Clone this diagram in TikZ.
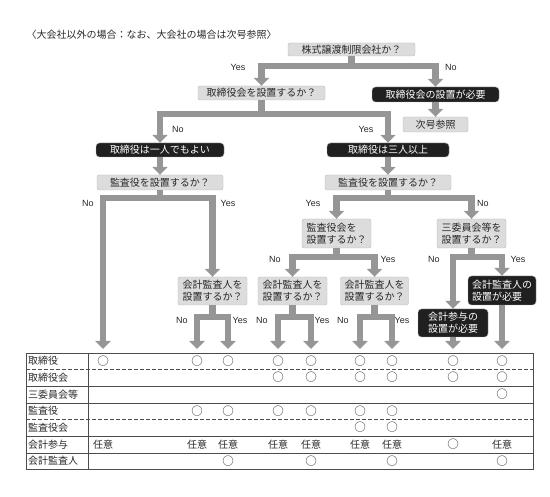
\documentclass[tikz,border=0pt]{standalone}
\usepackage{fontspec}
\newfontfamily\jp{Noto Sans CJK JP}
\newfontfamily\lat{Liberation Sans}
\usetikzlibrary{arrows.meta}
\definecolor{flowgray}{RGB}{150,150,150}
\definecolor{boxgray}{RGB}{220,220,220}
\definecolor{boxblack}{RGB}{32,32,32}
\definecolor{inkgray}{RGB}{40,40,40}
\tikzset{
  qbox/.style={draw=gray!55, fill=boxgray, rounded corners=2pt, inner sep=0pt, align=left},
  nbox/.style={draw=gray!70, fill=boxblack, text=white, rounded corners=3.5pt, inner sep=0pt, align=left},
  flow/.style={draw=flowgray, line width=6.5pt, -{Triangle[width=15pt,length=8pt]}},
  yn/.style={font=\lat\fontsize{9}{10}\selectfont},
  tline/.style={draw=black!70, line width=0.7pt},
  dline/.style={tline, dash pattern=on 3.5pt off 2.5pt},
  mark cell/.style={inner sep=0pt, font=\jp\fontsize{11.5}{12}\selectfont},
}

\begin{document}
\begin{tikzpicture}[x=1pt, y=-1pt, every node/.style={font=\jp\fontsize{10}{12}\selectfont, text=inkgray}]
  \useasboundingbox (0,0) rectangle (550,497);
  \node[anchor=west] (title) at (23,35) {〈大会社以外の場合：なお、大会社の場合は次号参照〉};

  % question and result boxes
  \node[qbox, minimum width=127pt, minimum height=13pt] (q1) at (351.5,49.5) {株式譲渡制限会社か？};
  \node[qbox, minimum width=127pt, minimum height=14pt] (q2) at (261.5,93) {取締役会を設置するか？};
  \node[nbox, minimum width=127pt, minimum height=15pt] (must1) at (435.5,94.5) {取締役会の設置が必要};
  \node[qbox, minimum width=65pt, minimum height=15pt] (ref) at (435.5,124.5) {次号参照};
  \node[nbox, minimum width=128pt, minimum height=14pt] (one) at (160,150) {取締役は一人でもよい};
  \node[nbox, minimum width=122pt, minimum height=14pt] (three) at (388,150) {取締役は三人以上};
  \node[qbox, minimum width=126pt, minimum height=15pt] (ka1) at (160,182.5) {監査役を設置するか？};
  \node[qbox, minimum width=126pt, minimum height=15pt] (ka2) at (388,182.5) {監査役を設置するか？};
  \node[qbox, minimum width=69pt, minimum height=29pt] (kk) at (336.5,233.5) {監査役会を\\設置するか？};
  \node[qbox, minimum width=69pt, minimum height=29pt] (sa) at (471.5,233.5) {三委員会等を\\設置するか？};
  \node[qbox, minimum width=69pt, minimum height=28pt] (aA) at (212.5,291) {会計監査人を\\設置するか？};
  \node[qbox, minimum width=69pt, minimum height=28pt] (aB) at (292.5,291) {会計監査人を\\設置するか？};
  \node[qbox, minimum width=68pt, minimum height=28pt] (aC) at (374.5,291) {会計監査人を\\設置するか？};
  \node[nbox, minimum width=68pt, minimum height=29pt] (mustA) at (502,290.5) {会計監査人の\\設置が必要};
  \node[nbox, minimum width=70pt, minimum height=28pt] (mustP) at (453,323) {会計参与の\\設置が必要};

  % column tops of the table
  \foreach \x [count=\i] in {103,197,228,278,311,360,392,453,502}
    \coordinate (t\i) at (\x,349);

  \coordinate (b1) at (351.5,66);
  \coordinate (b2) at (261.5,114);
  \coordinate (b3L) at (160,198);
  \coordinate (b3R) at (388,198);
  \coordinate (b4L) at (336.5,257);
  \coordinate (b4R) at (471.5,257);
  \coordinate (b5A) at (212.5,317);
  \coordinate (b5B) at (292.5,317);
  \coordinate (b5C) at (374.5,317);

  \draw[flow] (q1.south) -- (b1) -| (q2.north);
  \draw[flow] (q1.south) -- (b1) -| (must1.north);
  \draw[flow] (must1.south) -- (ref.north);
  \draw[flow] (q2.south) -- (b2) -| (one.north);
  \draw[flow] (q2.south) -- (b2) -| (three.north);
  \draw[flow] (one.south) -- (ka1.north);
  \draw[flow] (three.south) -- (ka2.north);
  \draw[flow] (ka1.south) -- (b3L) -| (t1);
  \draw[flow] (ka1.south) -- (b3L) -| (aA.north);
  \draw[flow] (ka2.south) -- (b3R) -| (kk.north);
  \draw[flow] (ka2.south) -- (b3R) -| (sa.north);
  \draw[flow] (kk.south) -- (b4L) -| (aB.north);
  \draw[flow] (kk.south) -- (b4L) -| (aC.north);
  \draw[flow] (sa.south) -- (b4R) -| (mustP.north);
  \draw[flow] (sa.south) -- (b4R) -| (mustA.north);
  \draw[flow] (aA.south) -- (b5A) -| (t2);
  \draw[flow] (aA.south) -- (b5A) -| (t3);
  \draw[flow] (aB.south) -- (b5B) -| (t4);
  \draw[flow] (aB.south) -- (b5B) -| (t5);
  \draw[flow] (aC.south) -- (b5C) -| (t6);
  \draw[flow] (aC.south) -- (b5C) -| (t7);
  \draw[flow] (mustP.south) -- (t8);
  \draw[flow] (mustA.south) -- (t9);

  % yes / no labels
  \node[yn] (y1) at (238,67) {Yes};
  \node[yn] (n1) at (451,67) {No};
  \node[yn] (n2) at (178,129) {No};
  \node[yn] (y2) at (366,129) {Yes};
  \node[yn] (n3) at (88,203) {No};
  \node[yn] (y3) at (228,203) {Yes};
  \node[yn] (y4) at (313,203) {Yes};
  \node[yn] (n4) at (483,203) {No};
  \node[yn] (n5) at (275,259) {No};
  \node[yn] (y5) at (388,259) {Yes};
  \node[yn] (n6) at (434,259) {No};
  \node[yn] (y6) at (518,259) {Yes};
  \node[yn] (n7) at (182,320) {No};
  \node[yn] (y7) at (240,320) {Yes};
  \node[yn] (n8) at (262,320) {No};
  \node[yn] (y8) at (322,320) {Yes};
  \node[yn] (n9) at (343,320) {No};
  \node[yn] (y9) at (402,320) {Yes};

  % table
  \draw[tline] (26,353) rectangle (533,469);
  \draw[tline] (88,353) -- (88,469);
  \foreach \yy in {386,403,436,453}
    \draw[tline] (26,\yy) -- (533,\yy);
  \foreach \yy in {369,419}
    \draw[dline] (26,\yy) -- (533,\yy);
  \foreach \txt/\yy [count=\i] in {取締役/361,取締役会/377.5,三委員会等/394.5,監査役/411,監査役会/427.5,会計参与/444.5,会計監査人/461}
    \node[anchor=west, inner sep=0pt] (row\i) at (28,\yy) {\txt};
  \foreach \r/\yy/\cols in {1/361/{1,...,9}, 2/377.5/{4,...,9}, 3/394.5/{9}, 4/411/{2,...,7}, 5/427.5/{6,7}, 7/461/{3,5,7,9}}
    \foreach \c in \cols
      \node[mark cell] (m\r-\c) at (t\c |- 0,\yy) {○};
  \foreach \c in {1,...,7,9}
    \node[inner sep=0pt] (m6-\c) at (t\c |- 0,444.5) {任意};
  \node[mark cell] (m6-8) at (t8 |- 0,444.5) {○};
\end{tikzpicture}
\end{document}
